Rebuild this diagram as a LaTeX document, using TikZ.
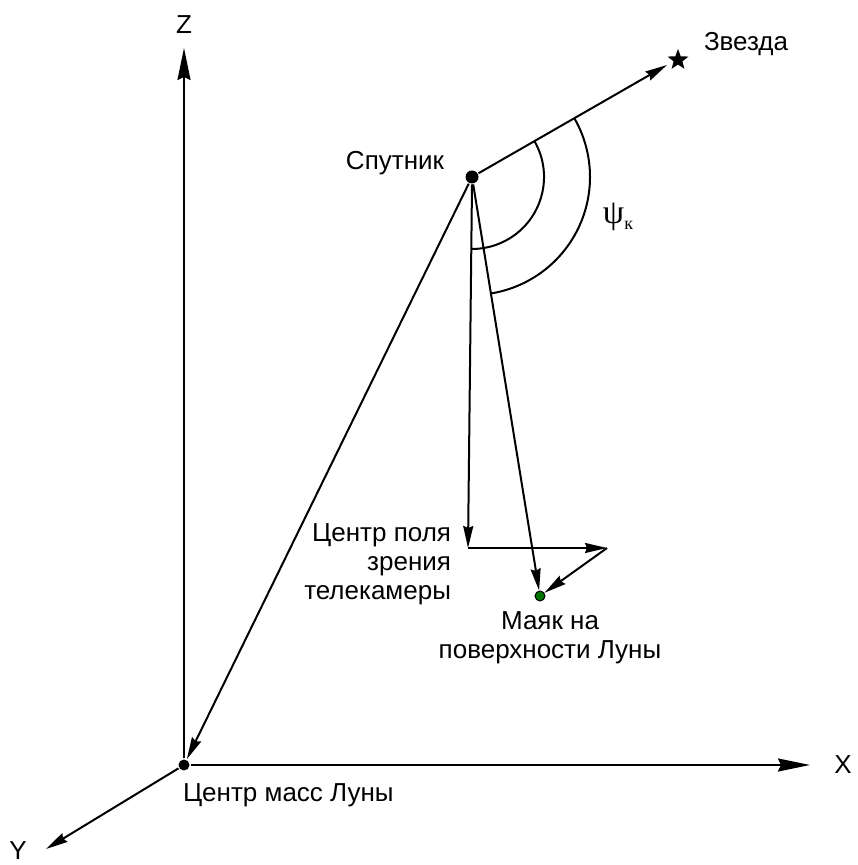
\documentclass[tikz,border=0pt]{standalone}
\usepackage{fontspec}
\setmainfont{Liberation Sans}
\newfontfamily\psifont{Liberation Serif}
\usetikzlibrary{arrows.meta, shapes.geometric}

\begin{document}
\begin{tikzpicture}[
    x=0.5pt, y=0.5pt,
    font=\fontsize{13}{14.5}\selectfont,
    line width=1pt,
    dotnode/.style={circle, fill=black, inner sep=0pt, minimum size=5.5pt},
    beacon/.style={circle, draw=black, line width=0.5pt, fill=green!45!black, inner sep=0pt, minimum size=5pt},
    axisarr/.style={-{Stealth[length=16pt, width=6.5pt, inset=1.5pt]}},
    arr/.style={-{Stealth[length=11pt, width=5pt, inset=1pt]}},
    lbl/.style={inner sep=0pt, align=center},
]
\useasboundingbox (0,0) rectangle (857,865);

% points
\node[dotnode] (O) at (184,100) {};
\node[dotnode, minimum size=6.5pt] (S) at (472,688) {};
\node[beacon] (B) at (540,269) {};
\node[star, star points=5, star point ratio=2.4, fill=black, inner sep=0pt, minimum size=11pt] (star) at (678,805) {};
\coordinate (zend) at (184,817);
\coordinate (xend) at (810,100);
\coordinate (yend) at (46,16);
\coordinate (sdir) at (667,800);
\coordinate (C) at (468,317);
\coordinate (H) at (607,317);

% axes
\draw[axisarr] (O) -- (zend);
\draw[axisarr] (O) -- (xend);
\draw[arr] (O) -- (yend);

% lines from the satellite
\draw[arr] (S) -- (sdir);
\draw[arr] (S) -- (O);
\draw[arr] (S.south) -- (C);
\draw[arr] (C) -- (H);
\draw[arr] (H) -- (B);
\draw[arr] (S) -- (B);

% angles
\draw (S) ++(30:72) arc[start angle=30, end angle=-90, radius=72];
\draw (S) ++(30:118) arc[start angle=30, end angle=-80.8, radius=118];

% labels
\node[lbl] (zlbl) at (184,840) {Z};
\node[lbl] (xlbl) at (843,100) {X};
\node[lbl] (ylbl) at (18,14) {Y};
\node[lbl, anchor=west] (starlbl) at (703,821) {Звезда};
\node[lbl, anchor=east] (slbl) at (445,702) {Спутник};
\node[lbl] (psilbl) at (618,648) {{\psifont\fontsize{17}{17}\selectfont ψ}\raisebox{-0.4ex}{\psifont\fontsize{9}{9}\selectfont к}};
\node[lbl, align=right, anchor=east] (clbl) at (452,301) {Центр поля\\зрения\\телекамеры};
\node[lbl] (blbl) at (550,227) {Маяк на\\поверхности Луны};
\node[lbl, anchor=west] (olbl) at (182,70) {Центр масс Луны};
\end{tikzpicture}
\end{document}
